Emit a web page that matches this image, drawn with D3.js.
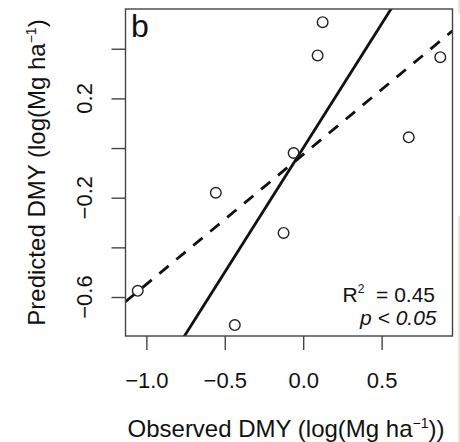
<!DOCTYPE html>
<html>
<head>
<meta charset="utf-8">
<script src="https://cdn.jsdelivr.net/npm/d3@7"></script>
<style>
	body{margin:0;background:#fff;}
	svg{display:block;}
	text{font-family:"Liberation Sans",Arial,Helvetica,sans-serif;fill:#111;}
</style>
</head>
<body>
<div class="canvas"></div>
<script>
//Data
var observed  = [0.124, 0.092, 0.874, 0.673, -0.061, -0.557, -0.125, -1.055, -0.436];
var predicted = [0.507, 0.373, 0.366, 0.043, -0.020, -0.180, -0.342, -0.575, -0.713];
var xTicks = [-1.0, -0.5, 0.0, 0.5];
var yTicks = [-0.6, -0.4, -0.2, 0.0, 0.2, 0.4];
var yLabels = [-0.6, -0.2, 0.2];
//1:1 line and fitted line (intercept, slope)
var oneToOne = [0, 1];
var fitLine = [-0.026, 0.523];
var stats = ['0.45', '0.05'];

var W = 460, H = 442;
var box = {l:125.5, r:452.5, t:9, b:336};

var svg = d3.select('.canvas')
	.append('svg')
	.attr('width',W)
	.attr('height',H);

var x = d3.scaleLinear().domain([-1.133, 0.952]).range([box.l, box.r]);
var y = d3.scaleLinear().domain([-0.757, 0.560]).range([box.b, box.t]);

svg.append('clipPath')
	.attr('id','clip')
	.append('rect')
	.attr('x',box.l).attr('y',box.t)
	.attr('width',box.r-box.l).attr('height',box.b-box.t);

//lines, clipped to the box
var lineGen = function(c){
	var d = x.domain();
	return d3.line()([[x(d[0]), y(c[0]+c[1]*d[0])], [x(d[1]), y(c[0]+c[1]*d[1])]]);
};
svg.append('path')
	.attr('d',lineGen(oneToOne))
	.attr('clip-path','url(#clip)')
	.style('fill','none')
	.style('stroke','#111')
	.style('stroke-width',2.8);
svg.append('path')
	.attr('d',lineGen(fitLine))
	.attr('clip-path','url(#clip)')
	.style('fill','none')
	.style('stroke','#111')
	.style('stroke-width',2.8)
	.style('stroke-dasharray','12,10');

//points
svg.selectAll('circle.pt')
	.data(observed)
	.enter()
	.append('circle')
	.attr('class','pt')
	.attr('cx',function(d){return x(d);})
	.attr('cy',function(d,i){return y(predicted[i]);})
	.attr('r',5.3)
	.style('fill','none')
	.style('stroke','#222')
	.style('stroke-width',1.4);

//frame
svg.append('rect')
	.attr('x',box.l).attr('y',box.t)
	.attr('width',box.r-box.l).attr('height',box.b-box.t)
	.style('fill','none')
	.style('stroke','#444')
	.style('stroke-width',1.4);

//axes
var fmt = function(d){ return d3.format('.1f')(d).replace('-','\u2212'); };
var xAxis = svg.append('g')
	.attr('transform','translate(0,'+box.b+')')
	.call(d3.axisBottom(x).tickValues(xTicks).tickSize(14).tickPadding(24).tickFormat(fmt));
var yAxis = svg.append('g')
	.attr('transform','translate('+box.l+',0)')
	.call(d3.axisLeft(y).tickValues(yTicks).tickSize(14).tickFormat(''));
[xAxis, yAxis].forEach(function(a){
	a.select('.domain').remove();
	a.selectAll('line').style('stroke','#444').style('stroke-width',1.4);
});
xAxis.selectAll('text')
	.style('font-size','22px')
	.style('fill','#111')
	.attr('dy',0)
	.attr('y',52);

yLabels.forEach(function(v){
	svg.append('text')
		.attr('transform','translate(91.5,'+y(v)+') rotate(-90)')
		.attr('text-anchor','middle')
		.style('font-size','22px')
		.text(fmt(v));
});

//axis titles
var xt = svg.append('text')
	.attr('x',(box.l+box.r)/2 - 3)
	.attr('y',437)
	.attr('text-anchor','middle')
	.style('font-size','24px');
xt.append('tspan').text('Observed DMY (log(Mg ha');
xt.append('tspan').attr('dy',-9).style('font-size','14px').text('\u22121');
xt.append('tspan').attr('dy',9).text('))');

var yt = svg.append('text')
	.attr('transform','translate(45,'+((box.t+box.b)/2)+') rotate(-90)')
	.attr('text-anchor','middle')
	.style('font-size','24px');
yt.append('tspan').text('Predicted DMY (log(Mg ha');
yt.append('tspan').attr('dy',-9).style('font-size','14px').text('\u22121');
yt.append('tspan').attr('dy',9).text(')');

//panel letter
svg.append('text')
	.attr('x',131)
	.attr('y',36.5)
	.style('font-size','32px')
	.text('b');

//stats
var r2 = svg.append('text')
	.attr('x',435)
	.attr('y',302)
	.attr('text-anchor','end')
	.attr('xml:space','preserve')
	.style('font-size','21px');
r2.append('tspan').text('R');
r2.append('tspan').attr('dy',-9).style('font-size','12px').text('2');
r2.append('tspan').attr('dy',9).text('  = '+stats[0]);

svg.append('text')
	.attr('x',436.5)
	.attr('y',325)
	.attr('text-anchor','end')
	.style('font-size','21px')
	.style('font-style','italic')
	.text('p < '+stats[1]);

//faint edge of the neighbouring panel
svg.append('line')
	.attr('x1',459).attr('x2',459).attr('y1',0).attr('y2',14)
	.style('stroke','#dfe8c4').style('stroke-width',1.5);
svg.append('line')
	.attr('x1',459).attr('x2',459).attr('y1',216).attr('y2',H)
	.style('stroke','#dfe8c4').style('stroke-width',1.5);
</script>
</body>
</html>
